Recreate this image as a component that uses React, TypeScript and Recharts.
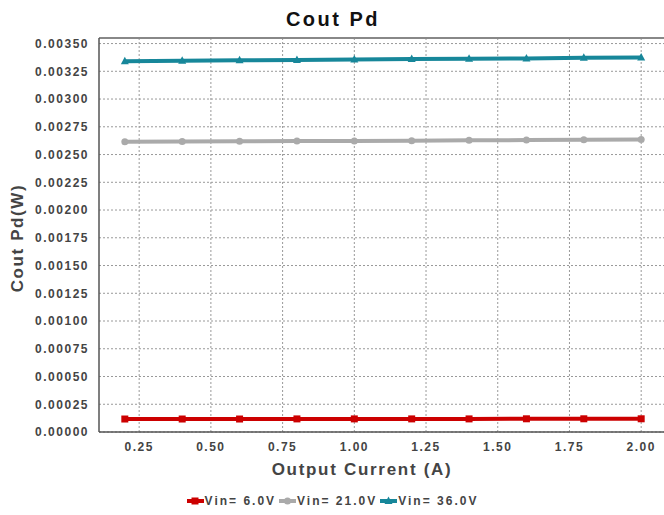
import React from 'react';
import {
  LineChart,
  Line,
  XAxis,
  YAxis,
  CartesianGrid,
  ReferenceLine,
  Label,
} from 'recharts';

const FONT = "'Liberation Sans', Arial, Helvetica, sans-serif";

const current = [0.2, 0.4, 0.6, 0.8, 1.0, 1.2, 1.4, 1.6, 1.8, 2.0];
const vin6 = [0.000117, 0.000117, 0.000117, 0.000118, 0.000118, 0.000118, 0.000118, 0.000119, 0.000119, 0.000119];
const vin21 = [0.002615, 0.002617, 0.002619, 0.002621, 0.002623, 0.002625, 0.002628, 0.00263, 0.002633, 0.002636];
const vin36 = [0.00334, 0.003346, 0.003349, 0.003352, 0.003357, 0.003361, 0.003364, 0.003366, 0.003372, 0.003375];

const xTicks = [0.25, 0.5, 0.75, 1.0, 1.25, 1.5, 1.75, 2.0];
const yTicks = [0, 0.00025, 0.0005, 0.00075, 0.001, 0.00125, 0.0015, 0.00175, 0.002, 0.00225, 0.0025, 0.00275, 0.003, 0.00325, 0.0035];

const RED = '#cc0000';
const GRAY = '#aaaaaa';
const TEAL = '#17879a';

const data = current.map((x, i) => ({ x, v6: vin6[i], v21: vin21[i], v36: vin36[i] }));

// marker shapes
function SquareDot(props: any) {
  const { cx, cy } = props;
  if (cx == null || cy == null) return null;
  return <rect x={cx - 3.5} y={cy - 3.5} width={7} height={7} fill={RED} />;
}
function CircleDot(props: any) {
  const { cx, cy } = props;
  if (cx == null || cy == null) return null;
  return <circle cx={cx} cy={cy} r={3.5} fill={GRAY} />;
}
function TriangleDot(props: any) {
  const { cx, cy } = props;
  if (cx == null || cy == null) return null;
  return <polygon points={`${cx},${cy - 4.5} ${cx + 4},${cy + 3} ${cx - 4},${cy + 3}`} fill={TEAL} />;
}

const tickStyle = { fontFamily: FONT, fontSize: 12, fontWeight: 700, fill: '#444', letterSpacing: 1.5 };

function LegendItem({ color, label, marker }: { color: string; label: string; marker: 'square' | 'circle' | 'triangle' }) {
  return (
    <span style={{ display: 'flex', alignItems: 'center', marginRight: 3 }}>
      <svg width={17} height={10} style={{ marginRight: 1 }}>
        <line x1={0} y1={5} x2={17} y2={5} stroke={color} strokeWidth={4} />
        {marker === 'square' && <rect x={4.5} y={1.5} width={7} height={7} fill={color} />}
        {marker === 'circle' && <circle cx={8.5} cy={5} r={3.5} fill={color} />}
        {marker === 'triangle' && <polygon points="8.5,0.5 12.5,8 4.5,8" fill={color} />}
      </svg>
      {label}
    </span>
  );
}

export default function App() {
  return (
    <div style={{ position: 'absolute', left: 0, top: 0, width: 664, height: 515, overflow: 'hidden', background: '#fff' }}>
      <div style={{
        position: 'absolute', left: 0, width: 666, top: 8, textAlign: 'center',
        fontFamily: FONT, fontWeight: 700, fontSize: 20, letterSpacing: 2.5, color: '#111',
      }}>
        Cout Pd
      </div>

      <LineChart
        width={700}
        height={515}
        data={data}
        margin={{ top: 38, right: 33, bottom: 53, left: 0 }}
      >
        <CartesianGrid stroke="#999" strokeDasharray="2 2" horizontalValues={yTicks} verticalValues={xTicks} />
        <ReferenceLine y={0.00355} stroke="#888" strokeWidth={2} ifOverflow="extendDomain" />
        <XAxis
          dataKey="x"
          type="number"
          domain={[0.11, 2.09]}
          ticks={xTicks}
          tickFormatter={(v: number) => v.toFixed(2)}
          tick={tickStyle}
          tickLine={false}
          tickSize={6}
          tickMargin={4}
          axisLine={{ stroke: '#555', strokeWidth: 1.5 }}
          height={30}
          allowDataOverflow
        >
          <Label
            content={() => (
              <text x={362} y={475} textAnchor="middle" fontFamily={FONT} fontSize={17} fontWeight={700} fill="#444" letterSpacing={1.7}>
                Output Current (A)
              </text>
            )}
          />
        </XAxis>
        <YAxis
          type="number"
          domain={[0, 0.00355]}
          ticks={yTicks}
          tickFormatter={(v: number) => v.toFixed(5)}
          tick={tickStyle}
          tickLine={false}
          tickSize={6}
          tickMargin={4}
          axisLine={{ stroke: '#555', strokeWidth: 1.5 }}
          width={99}
          allowDataOverflow
        >
          <Label
            content={() => (
              <text x={23} y={238} transform="rotate(-90 23 238)" textAnchor="middle" fontFamily={FONT} fontSize={17} fontWeight={700} fill="#444" letterSpacing={1.6}>
                Cout Pd(W)
              </text>
            )}
          />
        </YAxis>
        <Line dataKey="v6" stroke={RED} strokeWidth={4} dot={<SquareDot />} activeDot={false} isAnimationActive={false} />
        <Line dataKey="v21" stroke={GRAY} strokeWidth={4} dot={<CircleDot />} activeDot={false} isAnimationActive={false} />
        <Line dataKey="v36" stroke={TEAL} strokeWidth={4} dot={<TriangleDot />} activeDot={false} isAnimationActive={false} />
      </LineChart>

      <div style={{
        position: 'absolute', left: 0, width: 668, top: 494, display: 'flex', justifyContent: 'center',
        fontFamily: FONT, fontWeight: 700, fontSize: 12, letterSpacing: 2, color: '#444',
      }}>
        <LegendItem color={RED} label="Vin= 6.0V" marker="square" />
        <LegendItem color={GRAY} label="Vin= 21.0V" marker="circle" />
        <LegendItem color={TEAL} label="Vin= 36.0V" marker="triangle" />
      </div>
    </div>
  );
}
